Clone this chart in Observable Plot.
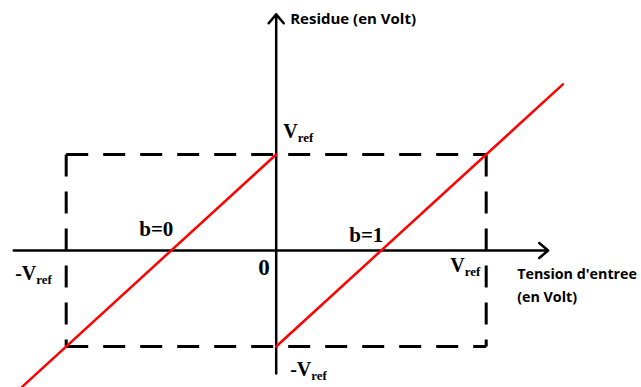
<!DOCTYPE html>
<html>
<head>
<meta charset="utf-8">
<script src="https://cdn.jsdelivr.net/npm/d3@7"></script>
<script src="https://cdn.jsdelivr.net/npm/@observablehq/plot@0.6"></script>
<style>
  html, body { margin: 0; padding: 0; background: #fff; }
  svg { display: block; }
</style>
</head>
<body>
<div id="chart"></div>
<script>
// ---- data ----
const vref = 1;                          // reference voltage (normalised)
const xAxisExtent = [-1.25, 1.295];      // input voltage axis span
const yAxisExtent = [-1.28, 2.46];       // residue axis span
const lineB0X = [-1.21, 0];              // residue for b=0
const lineB0Y = [-1.42, 1];
const lineB1X = [0, 1.365];              // residue for b=1
const lineB1Y = [-1, 1.73];
const refLabels = ["V_ref", "-V_ref", "V_ref", "-V_ref"]; // top, left, right, bottom
const originLabel = "0";
const bitLabels = ["b=0", "b=1"];
const yTitle = "Residue (en Volt)";
const xTitle = ["Tension d'entree", "(en Volt)"];

// ---- derived tables ----
const rectSides = [
  {x1: -vref, y1: vref, x2: vref, y2: vref},
  {x1: vref, y1: vref, x2: vref, y2: -vref},
  {x1: -vref, y1: -vref, x2: vref, y2: -vref},
  {x1: -vref, y1: vref, x2: -vref, y2: -vref}
];
const axes = [
  {x1: xAxisExtent[0], y1: 0, x2: xAxisExtent[1], y2: 0},
  {x1: 0, y1: yAxisExtent[0], x2: 0, y2: yAxisExtent[1]}
];
const b0 = lineB0X.map((x, i) => ({x, y: lineB0Y[i]}));
const b1 = lineB1X.map((x, i) => ({x, y: lineB1Y[i]}));

const serif = {fontFamily: "Liberation Serif", fontWeight: "bold", fontSize: 20, fill: "black",
               textAnchor: "start", lineAnchor: "bottom"};
const sans = {fontFamily: "Open Sans", fontWeight: "bold", fontSize: 15, fill: "black",
              textAnchor: "start", lineAnchor: "bottom"};
const label = (x, y, text, dx, dy, style) =>
  Plot.text([{x, y, text}], {x: "x", y: "y", text: "text", dx, dy, ...style});

const chart = Plot.plot({
  width: 641,
  height: 387,
  marginLeft: 65.7,
  marginRight: 155.3,
  marginTop: 154,
  marginBottom: 41,
  x: {domain: [-vref, vref], axis: null},
  y: {domain: [-vref, vref], axis: null},
  style: {background: "white", overflow: "visible"},
  marks: [
    Plot.link(rectSides, {x1: "x1", y1: "y1", x2: "x2", y2: "y2", stroke: "black",
      strokeWidth: 3, strokeDasharray: "22,15", strokeLinecap: "butt"}),
    Plot.arrow(axes, {x1: "x1", y1: "y1", x2: "x2", y2: "y2", stroke: "black",
      strokeWidth: 2.5, headLength: 7, headAngle: 80}),
    Plot.line(b0, {x: "x", y: "y", stroke: "#ff0000", strokeWidth: 2.5}),
    Plot.line(b1, {x: "x", y: "y", stroke: "#ff0000", strokeWidth: 2.5}),
    label(0, vref, refLabels[0], 7, -17, serif),
    label(-vref, 0, refLabels[1], -51, 29, serif),
    label(vref, 0, refLabels[2], -36, 21, serif),
    label(0, -vref, refLabels[3], 14, 29, serif),
    label(0, 0, originLabel, -18, 24, {...serif, fontSize: 23}),
    label(-vref / 2, 0, bitLabels[0], -32, -15, {...serif, fontSize: 21}),
    label(vref / 2, 0, bitLabels[1], -32, -9, {...serif, fontSize: 21}),
    label(0, yAxisExtent[1], yTitle, 14, 10, sans),
    label(xAxisExtent[1], 0, xTitle[0], -31, 28, {...sans, fontSize: 14.3}),
    label(xAxisExtent[1], 0, xTitle[1], -31, 51, {...sans, fontSize: 14.3})
  ]
});

// subscripts: "V_ref" -> V with subscript "ref"
chart.querySelectorAll("text").forEach(t => {
  const s = t.textContent;
  if (s.includes("_")) {
    const [main, sub] = s.split("_");
    t.textContent = "";
    const ns = "http://www.w3.org/2000/svg";
    const a = document.createElementNS(ns, "tspan");
    a.textContent = main;
    const b = document.createElementNS(ns, "tspan");
    b.textContent = sub;
    b.setAttribute("font-size", "13");
    b.setAttribute("dy", "4");
    t.appendChild(a);
    t.appendChild(b);
  }
});

document.getElementById("chart").appendChild(chart);
</script>
</body>
</html>
